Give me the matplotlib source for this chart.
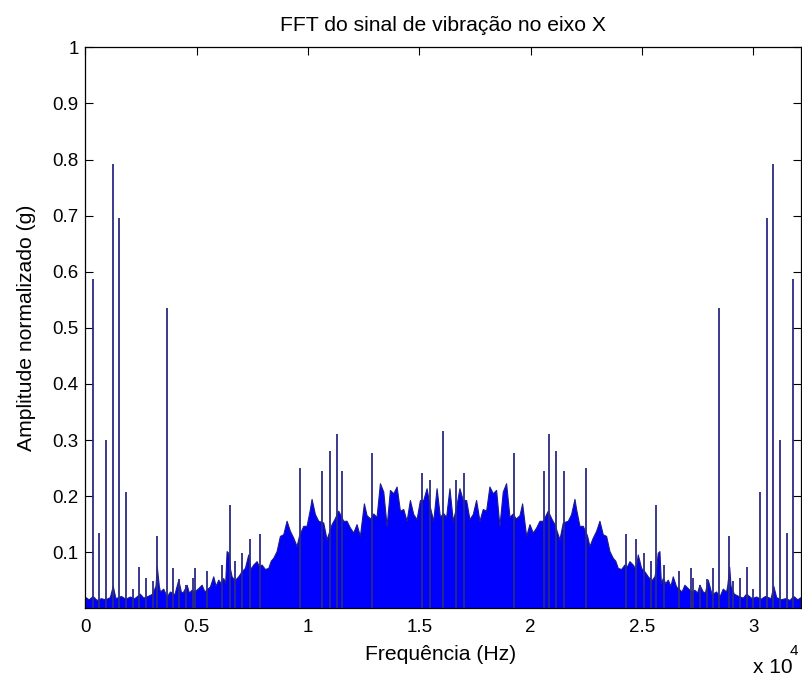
import numpy as np
import matplotlib
matplotlib.use("Agg")
import matplotlib.pyplot as plt

plt.rcParams['font.family'] = ['Liberation Sans', 'DejaVu Sans']

# ---------------- data (first half of the symmetric FFT spectrum) ----------------
F_MAX = 32134  # Hz, right limit of the x axis

# upper edge of the dense broadband content, first half (Hz, amplitude)
env_freq_hz = [0, 150, 330, 500, 700, 900, 1100, 1230, 1350, 1600, 1800, 2000, 2200,
               2450, 2600, 2800, 3000, 3150, 3210, 3300, 3351, 3500, 3650, 3800, 4000,
               4174, 4300, 4399, 4549, 4650, 4773, 4900, 5073, 5222, 5350, 5597, 5746,
               5850, 5971, 6080, 6195, 6280, 6345, 6420, 6500, 6570, 6700, 6869, 7000,
               7168, 7318, 7420, 7543, 7692, 7800, 7917, 8066, 8216, 8330, 8441, 8591,
               8740, 8890, 9040, 9189, 9339, 9489, 9600, 9788, 9938, 10088, 10162, 10312,
               10462, 10686, 10836, 11061, 11200, 11360, 11585, 11734, 11884, 12034,
               12183, 12333, 12513, 12632, 12800, 12932, 13081, 13233, 13383, 13533,
               13682, 13832, 13982, 14131, 14281, 14431, 14580, 14730, 14880, 15030,
               15179, 15329, 15480, 15628, 15778, 15928, 16067]
env_amp = [0.020, 0.016, 0.022, 0.015, 0.018, 0.016, 0.020, 0.040, 0.018, 0.022, 0.017,
           0.021, 0.018, 0.026, 0.019, 0.022, 0.026, 0.040, 0.074, 0.040, 0.030, 0.035,
           0.021, 0.030, 0.025, 0.051, 0.028, 0.030, 0.042, 0.028, 0.033, 0.030, 0.036,
           0.042, 0.030, 0.039, 0.057, 0.040, 0.051, 0.045, 0.054, 0.045, 0.102, 0.099,
           0.070, 0.057, 0.050, 0.057, 0.065, 0.072, 0.096, 0.070, 0.078, 0.084, 0.075,
           0.078, 0.070, 0.072, 0.085, 0.090, 0.102, 0.129, 0.132, 0.156, 0.138, 0.126,
           0.111, 0.130, 0.147, 0.147, 0.177, 0.195, 0.168, 0.156, 0.153, 0.123, 0.150,
           0.160, 0.174, 0.156, 0.156, 0.144, 0.135, 0.150, 0.129, 0.187, 0.166, 0.160,
           0.169, 0.163, 0.223, 0.208, 0.147, 0.211, 0.205, 0.217, 0.174, 0.177, 0.156,
           0.193, 0.168, 0.159, 0.193, 0.193, 0.214, 0.180, 0.156, 0.214, 0.163, 0.170]

# isolated narrow peaks, first half (Hz, amplitude)
spike_freq_hz = [326, 626, 925, 1225, 1524, 1824, 2123, 2423, 2707, 3022, 3201, 3651,
                 3950, 4219, 4519, 4818, 4923, 5447, 6120, 6495, 6719, 7019, 7393, 7842,
                 9638, 10611, 10986, 11285, 11510, 12857, 15104, 15479]
spike_amp = [0.587, 0.134, 0.300, 0.792, 0.695, 0.207, 0.034, 0.074, 0.054, 0.048, 0.128,
             0.535, 0.072, 0.053, 0.042, 0.054, 0.072, 0.066, 0.078, 0.184, 0.084, 0.099,
             0.123, 0.132, 0.250, 0.244, 0.280, 0.310, 0.244, 0.277, 0.241, 0.229]
center_spike_hz = [16067]
center_spike_amp = [0.316]

x_ticks = [0, 5000, 10000, 15000, 20000, 25000, 30000]
x_tick_labels = ['0', '0.5', '1', '1.5', '2', '2.5', '3']
y_ticks = [0.1, 0.2, 0.3, 0.4, 0.5, 0.6, 0.7, 0.8, 0.9, 1.0]
y_tick_labels = ['0.1', '0.2', '0.3', '0.4', '0.5', '0.6', '0.7', '0.8', '0.9', '1']

# ---------------- full (mirrored) spectrum ----------------
ef = np.array(env_freq_hz, dtype=float)
ea = np.array(env_amp)
full_f = np.concatenate([ef, F_MAX - ef[::-1][1:]])
full_a = np.concatenate([ea, ea[::-1][1:]])

sf = np.array(spike_freq_hz, dtype=float)
sa = np.array(spike_amp)
all_sf = np.concatenate([sf, F_MAX - sf, center_spike_hz])
all_sa = np.concatenate([sa, sa, center_spike_amp])

# ---------------- figure ----------------
fig = plt.figure(figsize=(8.03, 6.78), dpi=100)
ax = fig.add_axes([0.1063, 0.1028, 0.8908, 0.8274])

ax.fill_between(full_f, 0, full_a, facecolor='#0000ff', edgecolor='#1c1c8c',
                linewidth=0.8, zorder=2)
ax.vlines(all_sf, 0, all_sa, colors='#2b2b85', linewidth=1.3, zorder=3)

ax.set_xlim(0, F_MAX)
ax.set_ylim(0, 1)
ax.set_xticks(x_ticks)
ax.set_xticklabels(x_tick_labels)
ax.set_yticks(y_ticks)
ax.set_yticklabels(y_tick_labels)

ax.tick_params(direction='in', length=6, width=0.8, top=True, right=True,
               labelsize=13.5, colors='black')
ax.tick_params(axis='x', pad=8)
ax.tick_params(axis='y', pad=4.8)
for s in ax.spines.values():
    s.set_linewidth(0.9)
    s.set_color('black')

ax.set_title('FFT do sinal de vibração no eixo X', fontsize=15.2, pad=12)
ax.set_xlabel('Frequência (Hz)', fontsize=15.2)
ax.xaxis.set_label_coords(0.4965, -0.066)
ax.set_ylabel('Amplitude normalizado (g)', fontsize=15.2)
ax.yaxis.set_label_coords(-0.069, 0.5)

fig.text(752.7 / 803, 5 / 678, 'x 10', fontsize=15, ha='left', va='baseline')
fig.text(790 / 803, 23 / 678, '4', fontsize=11, ha='left', va='baseline')

fig.savefig('out.png', dpi=100)
